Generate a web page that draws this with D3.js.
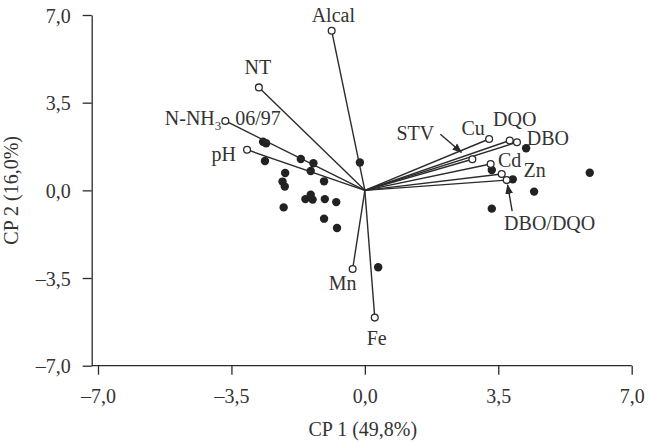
<!DOCTYPE html>
<html>
<head>
<meta charset="utf-8">
<script src="https://cdn.jsdelivr.net/npm/d3@7"></script>
<style>
  body { margin: 0; background: #fff; }
  text, tspan { font-family: "Liberation Serif", "Times New Roman", serif; fill: #333; }
</style>
</head>
<body>
<div id="chart"></div>
<script>
// variable loadings (open circles at the end of each vector)
const varNames = ['Alcal', 'NT', 'N-NH3', 'pH', 'Mn', 'Fe', 'Cu', 'DQO', 'DBO', 'STV', 'Cd', 'Zn', 'DBO/DQO'];
const varX = [-0.87, -2.78, -3.66, -3.09, -0.32, 0.26, 3.26, 3.80, 3.99, 2.82, 3.30, 3.59, 3.72];
const varY = [6.37, 4.11, 2.77, 1.62, -3.14, -5.08, 2.05, 1.99, 1.92, 1.24, 1.05, 0.65, 0.41];

// sample scores (filled dots)
const obsX = [-2.67, -2.59, -2.62, -1.68, -1.35, -1.42, -2.09, -2.16, -2.10, -1.07, -0.13,
  -1.56, -1.42, -1.37, -1.05, -0.75, -2.13, -1.07, -0.73, 0.35,
  4.23, 3.33, 3.88, 4.44, 5.90, 3.33];
const obsY = [1.94, 1.88, 1.17, 1.25, 1.08, 0.77, 0.69, 0.35, 0.15, 0.36, 1.11,
  -0.35, -0.17, -0.37, -0.35, -0.47, -0.68, -1.13, -1.50, -3.07,
  1.68, 0.81, 0.44, -0.05, 0.70, -0.73];

const tickValues = [-7, -3.5, 0, 3.5, 7];
const fmt = d => (d < 0 ? '\u2013' : '') + Math.abs(d).toFixed(1).replace('.', ',');

const W = 656, H = 442;
const svg = d3.select('#chart').append('svg')
  .attr('width', W)
  .attr('height', H);

const x = d3.scaleLinear().domain([-7, 7]).range([98, 631.7]);
const y = d3.scaleLinear().domain([-7, 7]).range([365.7, 15]);
const yAxisX = x(-7) - 6.3;
const ink = '#2b2b2b';

// x axis
const xAxis = svg.append('g')
  .attr('transform', `translate(0, ${y(-7)})`)
  .call(d3.axisBottom(x).tickValues(tickValues).tickFormat(fmt).tickSize(9).tickPadding(14).tickSizeOuter(0));
xAxis.select('.domain').attr('d', `M${yAxisX},0H${x(7)}`);

// y axis
const yAxis = svg.append('g')
  .attr('transform', `translate(${yAxisX}, 0)`)
  .call(d3.axisLeft(y).tickValues(tickValues).tickFormat(fmt).tickSize(9).tickPadding(12).tickSizeOuter(0));

svg.selectAll('.domain, .tick line').attr('stroke', ink).attr('stroke-width', 1.3);
svg.selectAll('.tick text')
  .attr('font-size', 20)
  .attr('fill', '#333')
  .style('font-family', '"Liberation Serif", serif');
yAxis.selectAll('.tick text').attr('dy', '0.35em');

// axis titles
svg.append('text')
  .attr('x', x(0) - 2)
  .attr('y', 436)
  .attr('text-anchor', 'middle')
  .attr('font-size', 20)
  .text('CP 1 (49,8%)');
svg.append('text')
  .attr('transform', `translate(18, ${y(0)}) rotate(-90)`)
  .attr('text-anchor', 'middle')
  .attr('font-size', 20)
  .text('CP 2 (16,0%)');

// sample dots
svg.append('g').selectAll('circle')
  .data(obsX.map((d, i) => [d, obsY[i]]))
  .enter()
  .append('circle')
  .attr('cx', d => x(d[0]))
  .attr('cy', d => y(d[1]))
  .attr('r', 4.2)
  .attr('fill', '#222');

// vectors
const vars = varNames.map((n, i) => ({ name: n, vx: varX[i], vy: varY[i] }));
svg.append('g').selectAll('line')
  .data(vars)
  .enter()
  .append('line')
  .attr('x1', x(0))
  .attr('y1', y(0))
  .attr('x2', d => x(d.vx))
  .attr('y2', d => y(d.vy))
  .attr('stroke', ink)
  .attr('stroke-width', 1.4);
svg.append('g').selectAll('circle')
  .data(vars)
  .enter()
  .append('circle')
  .attr('cx', d => x(d.vx))
  .attr('cy', d => y(d.vy))
  .attr('r', 3.4)
  .attr('fill', '#fff')
  .attr('stroke', ink)
  .attr('stroke-width', 1.3);

// label offsets from the vector tip, in px
const labelPos = {
  'Alcal': [1.6, -15.7, 'middle'],
  'NT': [-1, -20.6, 'middle'],
  'N-NH3': [-4, -3, 'end'],
  'pH': [-11, 4, 'end'],
  'Mn': [-10, 14, 'middle'],
  'Fe': [2, 20, 'middle'],
  'Cu': [-16, -11, 'middle'],
  'DQO': [5, -22, 'middle'],
  'DBO': [31, -4, 'middle'],
  'STV': [-57, -26, 'middle'],
  'Cd': [19, -4, 'middle'],
  'Zn': [33, -4, 'middle'],
  'DBO/DQO': [43, 43, 'middle']
};

const labels = svg.append('g');
vars.forEach(d => {
  const p = labelPos[d.name];
  const t = labels.append('text')
    .attr('x', x(d.vx) + p[0])
    .attr('y', y(d.vy) + p[1])
    .attr('dy', '0.35em')
    .attr('text-anchor', p[2])
    .attr('font-size', 20);
  if (d.name === 'N-NH3') {
    t.append('tspan').text('N-NH');
    t.append('tspan').attr('font-size', 13).attr('dy', 5).attr('fill', '#333').text('3');
  } else {
    t.text(d.name);
  }
});

// sample tag next to N-NH3
const nn = vars.find(d => d.name === 'N-NH3');
labels.append('text')
  .attr('x', x(nn.vx) + 10)
  .attr('y', y(nn.vy) - 3)
  .attr('dy', '0.35em')
  .attr('font-size', 20)
  .text('06/97');

// pointer arrows
svg.append('defs').append('marker')
  .attr('id', 'head')
  .attr('viewBox', '0 0 10 10')
  .attr('refX', 9).attr('refY', 5)
  .attr('markerWidth', 7).attr('markerHeight', 7)
  .attr('orient', 'auto')
  .append('path')
  .attr('d', 'M0,1L10,5L0,9Z')
  .attr('fill', ink);

const stv = vars.find(d => d.name === 'STV');
const ratio = vars.find(d => d.name === 'DBO/DQO');
const arrows = [
  [x(stv.vx) - 32, y(stv.vy) - 25, x(stv.vx) - 11, y(stv.vy) - 7],
  [x(ratio.vx) + 5.5, y(ratio.vy) + 31, x(ratio.vx) + 1, y(ratio.vy) + 5]
];
svg.append('g').selectAll('line')
  .data(arrows)
  .enter()
  .append('line')
  .attr('x1', d => d[0]).attr('y1', d => d[1])
  .attr('x2', d => d[2]).attr('y2', d => d[3])
  .attr('stroke', ink)
  .attr('stroke-width', 1.4)
  .attr('marker-end', 'url(#head)');
</script>
</body>
</html>
